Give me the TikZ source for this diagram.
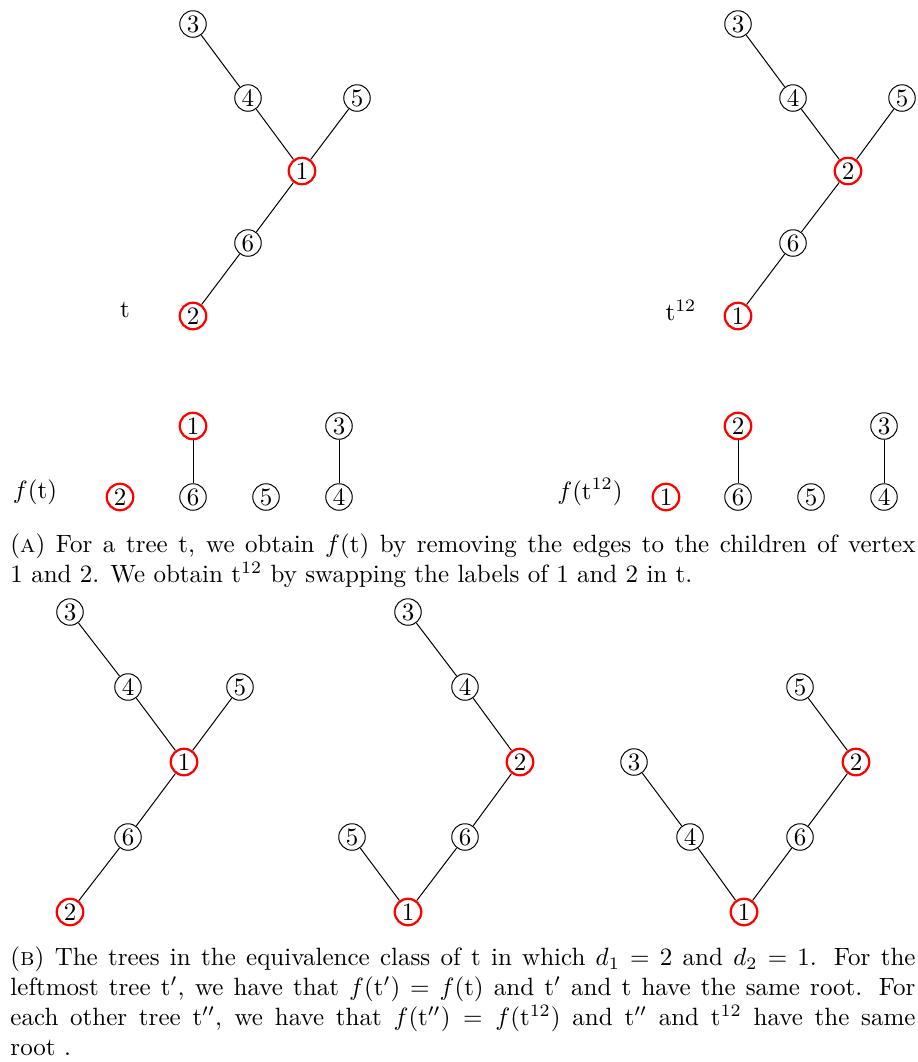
\documentclass[tikz,border=0pt]{standalone}
\usepackage{amsmath}
\tikzset{
  vtx/.style={circle,draw,line width=0.4pt,inner sep=0pt,minimum size=10.6pt},
  rootvtx/.style={vtx,draw=red,line width=0.9pt},
  capt/.style={anchor=north west,inner sep=0pt,text width=362pt,align=justify}
}
\begin{document}
\begin{tikzpicture}[x=0.4pt,y=-0.4pt]
\useasboundingbox (0,0) rectangle (918,1062);

\node[vtx] (a3) at (193,24) {3};
\node[vtx] (a4) at (248,98) {4};
\node[vtx] (a5) at (357,98) {5};
\node[rootvtx] (a1) at (302,171) {1};
\node[vtx] (a6) at (248,243) {6};
\node[rootvtx] (a2) at (193,316) {2};
\node (lt) at (125,310) {$\mathrm{t}$};
\draw (a3) -- (a4) -- (a1) -- (a6) -- (a2);
\draw (a5) -- (a1);

\node[vtx] (b3) at (738,24) {3};
\node[vtx] (b4) at (793,98) {4};
\node[vtx] (b5) at (902,98) {5};
\node[rootvtx] (b2) at (848,171) {2};
\node[vtx] (b6) at (793,243) {6};
\node[rootvtx] (b1) at (738,316) {1};
\node (lts) at (681,310) {$\mathrm{t}^{12}$};
\draw (b3) -- (b4) -- (b2) -- (b6) -- (b1);
\draw (b5) -- (b2);

\node[rootvtx] (c1) at (193,426) {1};
\node[vtx] (c3) at (339,426) {3};
\node[rootvtx] (c2) at (120,497) {2};
\node[vtx] (c6) at (193,497) {6};
\node[vtx] (c5) at (266,497) {5};
\node[vtx] (c4) at (339,497) {4};
\node (lf) at (35,492) {$f(\mathrm{t})$};
\draw (c1) -- (c6);
\draw (c3) -- (c4);

\node[rootvtx] (d2) at (738,426) {2};
\node[vtx] (d3) at (884,426) {3};
\node[rootvtx] (d1) at (666,497) {1};
\node[vtx] (d6) at (738,497) {6};
\node[vtx] (d5) at (811,497) {5};
\node[vtx] (d4) at (884,497) {4};
\node (lfs) at (590,492) {$f(\mathrm{t}^{12})$};
\draw (d2) -- (d6);
\draw (d3) -- (d4);

\node[capt] (capa) at (10,533) {(\textsc{a}) For a tree t, we obtain $f(\mathrm{t})$ by removing the edges to the children of vertex\linebreak 1 and 2. We obtain $\mathrm{t}^{12}$ by swapping the labels of 1 and 2 in t.};

\node[vtx] (e3) at (70,612) {3};
\node[vtx] (e4) at (128,687) {4};
\node[vtx] (e5) at (240,687) {5};
\node[rootvtx] (e1) at (184,762) {1};
\node[vtx] (e6) at (128,837) {6};
\node[rootvtx] (e2) at (70,912) {2};
\draw (e3) -- (e4) -- (e1) -- (e6) -- (e2);
\draw (e5) -- (e1);

\node[vtx] (g3) at (408,612) {3};
\node[vtx] (g4) at (465,687) {4};
\node[rootvtx] (g2) at (520,762) {2};
\node[vtx] (g5) at (352,837) {5};
\node[vtx] (g6) at (465,837) {6};
\node[rootvtx] (g1) at (408,912) {1};
\draw (g3) -- (g4) -- (g2) -- (g6) -- (g1);
\draw (g5) -- (g1);

\node[vtx] (h5) at (800,687) {5};
\node[vtx] (h3) at (634,762) {3};
\node[rootvtx] (h2) at (856,762) {2};
\node[vtx] (h4) at (690,837) {4};
\node[vtx] (h6) at (800,837) {6};
\node[rootvtx] (h1) at (744,912) {1};
\draw (h5) -- (h2) -- (h6) -- (h1);
\draw (h3) -- (h4) -- (h1);

\node[capt] (capb) at (10,946) {(\textsc{b}) The trees in the equivalence class of t in which $d_1=2$ and $d_2=1$. For the\linebreak leftmost tree $\mathrm{t}'$, we have that $f(\mathrm{t}')=f(\mathrm{t})$ and $\mathrm{t}'$ and t have the same root. For\linebreak each other tree $\mathrm{t}''$, we have that $f(\mathrm{t}'')=f(\mathrm{t}^{12})$ and $\mathrm{t}''$ and $\mathrm{t}^{12}$ have the same\linebreak root .};
\end{tikzpicture}
\end{document}
